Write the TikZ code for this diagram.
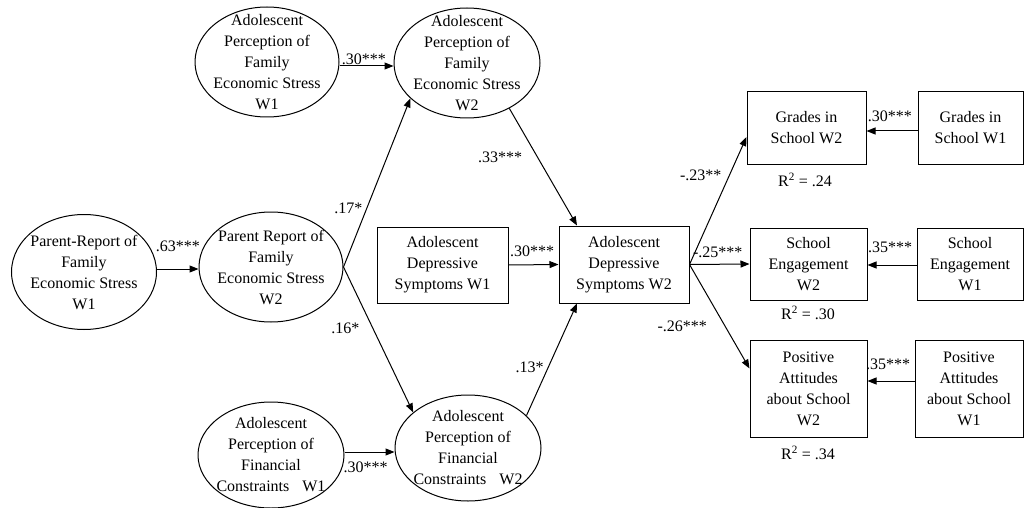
\documentclass[tikz,border=0pt]{standalone}
\usepackage{fontspec}
\setmainfont{Liberation Serif}
\usepackage{tikz}
\usetikzlibrary{shapes}
\usetikzlibrary{arrows.meta}
\tikzstyle{latent}=[ellipse,draw=black,align=center,inner sep=-20pt,minimum width=144pt,minimum height=110pt]
\tikzstyle{measured}=[rectangle,draw=black,align=center,inner sep=0pt,minimum height=72pt]
\tikzstyle{weight}=[inner sep=1pt]

\begin{document}
\begin{tikzpicture}[x=1pt,y=-1pt,line width=1pt,>={Triangle[length=9pt,width=7pt]},
    every node/.style={font=\fontsize{16pt}{21pt}\selectfont}]
    \useasboundingbox (0,0) rectangle (1025,508);
    \node[latent] at (267,62) (A1) {Adolescent\\Perception of\\Family\\Economic Stress\\W1};
    \node[latent,minimum width=146pt] at (467,63) (A2) {Adolescent\\Perception of\\Family\\Economic Stress\\W2};
    \node[latent,minimum width=145pt,minimum height=115pt] at (84,272) (P1) {Parent-Report of\\Family\\Economic Stress\\W1};
    \node[latent] at (271,267) (P2) {Parent Report of\\Family\\Economic Stress\\W2};
    \node[latent,minimum width=146pt,minimum height=106pt] at (271,455) (F1) {Adolescent\\Perception of\\Financial\\Constraints\hspace{9pt} W1};
    \node[latent,minimum width=146pt,minimum height=106pt] at (468,448) (F2) {Adolescent\\Perception of\\Financial\\Constraints\hspace{9pt} W2};
    \node[measured,minimum width=131pt,minimum height=76pt] at (442.5,265) (D1) {Adolescent\\Depressive\\Symptoms W1};
    \node[measured,minimum width=130pt,minimum height=77pt] at (624,264.5) (D2) {Adolescent\\Depressive\\Symptoms W2};
    \node[measured,minimum width=119pt] at (806.5,128) (G2) {Grades in\\School W2};
    \node[measured,minimum width=105pt] at (970.5,128) (G1) {Grades in\\School W1};
    \node[measured,minimum width=117pt] at (808.5,264) (E2) {School\\Engagement\\W2};
    \node[measured,minimum width=106pt] at (970,264) (E1) {School\\Engagement\\W1};
    \node[measured,minimum width=117pt,minimum height=97pt] at (808.5,388.5) (S2) {Positive\\Attitudes\\about School\\W2};
    \node[measured,minimum width=108pt,minimum height=97pt] at (969,388.5) (S1) {Positive\\Attitudes\\about School\\W1};
    \node at (805,180) (rG) {R\textsuperscript{2} = .24};
    \node at (808,313) (rE) {R\textsuperscript{2} = .30};
    \node at (808,453) (rS) {R\textsuperscript{2} = .34};
    \draw[->] ([yshift=-4pt]A1.east) to node [weight,above,pos=0.45] {.30***} ([yshift=-3pt]A2.west);
    \draw[->] ([yshift=3pt]P1.east) to node [weight,above=16pt] {.63***} ([yshift=-2pt]P2.west);
    \draw[->] (P2.east) to node [weight,left=3pt,pos=0.35] {.17*} (A2.212);
    \draw[->] (P2.east) to node [weight,left=12pt,pos=0.42] {.16*} (F2.147);
    \draw[->] ([yshift=3pt]F1.east) to node [weight,below=8pt,pos=0.42] {.30***} ([yshift=-4pt]F2.west);
    \draw[->] (A2.-47) to node [weight,left=14pt,pos=0.42] {.33***} ([xshift=-47pt]D2.north);
    \draw[->] (F2.29) to node [weight,left=3pt,pos=0.43] {.13*} ([xshift=-47pt]D2.south);
    \draw[->] (D1.east) to node [weight,above=6.5pt,pos=0.47] {.30***} (D2.west);
    \draw[->] (D2.east) to node [weight,left=6.5pt,pos=0.7] {-.23**} ([yshift=-9pt]G2.west);
    \draw[->] (D2.east) to node [weight,above=5.5pt,pos=0.47] {-.25***} (E2.west);
    \draw[->] (D2.east) to node [weight,left=16.5pt,pos=0.59] {-.26***} ([yshift=20pt]S2.west);
    \draw[->] ([yshift=-3pt]G1.west) to node [weight,above=7.5pt,pos=0.54] {.30***} ([yshift=-3pt]G2.east);
    \draw[->] ([yshift=-1pt]E1.west) to node [weight,above=11pt,pos=0.54] {.35***} ([yshift=-1pt]E2.east);
    \draw[->] ([yshift=7.5pt]S1.west) to node [weight,above=9.5pt,pos=0.56] {.35***} ([yshift=7.5pt]S2.east);
  \end{tikzpicture}
\end{document}
